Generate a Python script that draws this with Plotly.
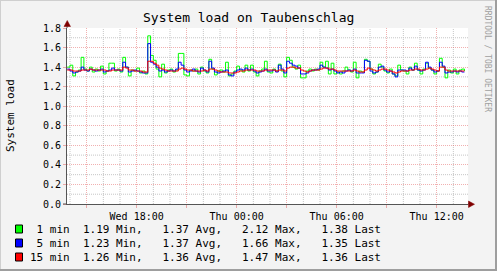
import plotly.graph_objects as go
import pandas as pd

# ---------------- data ----------------
start_time = "2024-01-03 13:50"   # a Wednesday
step = "10min"

load_1min = [
    1.40, 1.42, 1.31, 1.35, 1.37, 1.50, 1.38, 1.36, 1.40, 1.35, 1.38, 1.36, 1.41, 1.33, 1.36, 1.44, 1.44, 1.36, 1.38,
    1.35, 1.50, 1.40, 1.31, 1.37, 1.36, 1.39, 1.34, 1.36, 1.33, 1.72, 1.52, 1.47, 1.38, 1.30, 1.43, 1.34, 1.37,
    1.38, 1.35, 1.37, 1.54, 1.54, 1.32, 1.31, 1.37, 1.36, 1.38, 1.33, 1.40, 1.36, 1.34, 1.48, 1.38, 1.32, 1.36,
    1.37, 1.35, 1.45, 1.31, 1.33, 1.36, 1.41, 1.37, 1.35, 1.42, 1.36, 1.42, 1.35, 1.31, 1.36, 1.38, 1.46, 1.35,
    1.34, 1.38, 1.36, 1.43, 1.36, 1.30, 1.50, 1.47, 1.40, 1.38, 1.42, 1.29, 1.29, 1.36, 1.38, 1.36, 1.38, 1.37,
    1.45, 1.40, 1.46, 1.33, 1.44, 1.33, 1.35, 1.33, 1.36, 1.40, 1.37, 1.35, 1.45, 1.29, 1.36, 1.35, 1.48,
    1.46, 1.38, 1.33, 1.35, 1.43, 1.40, 1.36, 1.34, 1.38, 1.33, 1.31, 1.42, 1.37, 1.36, 1.33, 1.40, 1.37, 1.44,
    1.37, 1.33, 1.38, 1.44, 1.39, 1.37, 1.33, 1.36, 1.49, 1.40, 1.29, 1.37, 1.34, 1.38, 1.33, 1.37, 1.38, 1.36,
]
load_5min = [
    1.38, 1.36, 1.34, 1.35, 1.36, 1.40, 1.37, 1.36, 1.38, 1.37, 1.36, 1.37, 1.38, 1.35, 1.36, 1.37, 1.39, 1.37, 1.37,
    1.36, 1.45, 1.40, 1.35, 1.36, 1.37, 1.36, 1.35, 1.34, 1.34, 1.64, 1.45, 1.43, 1.40, 1.36, 1.37, 1.35, 1.36,
    1.37, 1.36, 1.38, 1.45, 1.42, 1.37, 1.35, 1.36, 1.38, 1.36, 1.35, 1.39, 1.37, 1.35, 1.46, 1.39, 1.35, 1.34,
    1.35, 1.36, 1.37, 1.32, 1.31, 1.35, 1.37, 1.38, 1.37, 1.39, 1.37, 1.38, 1.36, 1.34, 1.35, 1.36, 1.38, 1.36,
    1.36, 1.37, 1.35, 1.42, 1.38, 1.34, 1.46, 1.44, 1.42, 1.41, 1.39, 1.33, 1.33, 1.34, 1.36, 1.37, 1.37, 1.38,
    1.42, 1.40, 1.39, 1.37, 1.38, 1.36, 1.34, 1.35, 1.34, 1.36, 1.37, 1.36, 1.38, 1.34, 1.34, 1.34, 1.47,
    1.46, 1.36, 1.34, 1.35, 1.40, 1.41, 1.37, 1.35, 1.36, 1.33, 1.30, 1.37, 1.37, 1.37, 1.36, 1.39, 1.37, 1.41,
    1.37, 1.36, 1.37, 1.45, 1.40, 1.37, 1.35, 1.36, 1.45, 1.41, 1.34, 1.35, 1.35, 1.36, 1.35, 1.36, 1.35, 1.35,
]
load_15min = [
    1.37, 1.37, 1.36, 1.36, 1.36, 1.37, 1.37, 1.37, 1.38, 1.37, 1.37, 1.37, 1.37, 1.37, 1.36, 1.36, 1.37, 1.37, 1.37,
    1.37, 1.40, 1.39, 1.37, 1.37, 1.36, 1.36, 1.36, 1.35, 1.35, 1.46, 1.46, 1.44, 1.42, 1.39, 1.38, 1.37, 1.36,
    1.36, 1.36, 1.36, 1.38, 1.39, 1.38, 1.37, 1.37, 1.36, 1.36, 1.36, 1.36, 1.37, 1.36, 1.38, 1.38, 1.37, 1.36,
    1.35, 1.35, 1.35, 1.34, 1.34, 1.34, 1.35, 1.36, 1.36, 1.37, 1.37, 1.37, 1.37, 1.36, 1.36, 1.36, 1.37, 1.37,
    1.37, 1.37, 1.36, 1.37, 1.37, 1.36, 1.39, 1.40, 1.40, 1.39, 1.39, 1.37, 1.36, 1.35, 1.36, 1.37, 1.37, 1.37,
    1.38, 1.39, 1.39, 1.38, 1.38, 1.37, 1.36, 1.36, 1.36, 1.36, 1.36, 1.36, 1.37, 1.36, 1.35, 1.35, 1.37,
    1.39, 1.38, 1.37, 1.36, 1.37, 1.38, 1.38, 1.37, 1.36, 1.35, 1.34, 1.35, 1.36, 1.36, 1.36, 1.37, 1.37, 1.38,
    1.38, 1.37, 1.37, 1.38, 1.39, 1.38, 1.37, 1.36, 1.40, 1.40, 1.37, 1.36, 1.36, 1.36, 1.36, 1.36, 1.36, 1.36,
]

series_names = ["1 min", "5 min", "15 min"]
series_colors = ["#00FF00", "#0000FF", "#FF0000"]
stat_min = [1.19, 1.23, 1.26]
stat_avg = [1.37, 1.37, 1.36]
stat_max = [2.12, 1.66, 1.47]
stat_last = [1.38, 1.35, 1.36]

tick_vals = ["2024-01-03 15:00", "2024-01-03 18:00", "2024-01-03 21:00", "2024-01-04 00:00",
             "2024-01-04 03:00", "2024-01-04 06:00", "2024-01-04 09:00", "2024-01-04 12:00"]
tick_text = ["", "Wed 18:00", "", "Thu 00:00", "", "Thu 06:00", "", "Thu 12:00"]

x_range = ["2024-01-03 13:49:12", "2024-01-04 13:52:48"]
y_range = [0, 1.8]
y_major_step = 0.2
y_minor_step = 0.1

title = "System load on Taubenschlag"
y_title = "System load"
watermark = "RRDTOOL / TOBI OETIKER"

# ---------------- layout geometry ----------------
W, H = 497, 271
L, R, T, B = 67, 29, 28, 67
PW, PH = W - L - R, H - T - B


def px(x):
    return (x - L) / PW


def py(y):
    return (H - B - y) / PH


MONO = "DejaVu Sans Mono"
GRID = "#C6C6C6"
MGRID = "rgba(225,80,80,0.45)"
AXIS = "#555555"
ARROW = "#800000"
BACK = "#F3F3F3"
DOT = "1px,1px"

times = pd.date_range(start_time, periods=len(load_1min), freq=step)

fig = go.Figure()
for vals, name, col in zip([load_1min, load_5min, load_15min], series_names, series_colors):
    fig.add_trace(go.Scatter(x=times, y=vals, mode="lines", name=name,
                             line=dict(color=col, width=1, shape="hv"), showlegend=False))

fig.update_layout(
    width=W, height=H, autosize=False,
    margin=dict(l=L, r=R, t=T, b=B, pad=0),
    paper_bgcolor=BACK, plot_bgcolor="#FFFFFF",
    font=dict(family=MONO, size=10, color="#000000"),
    showlegend=False,
    xaxis=dict(type="date", range=x_range, fixedrange=True,
               tickmode="array", tickvals=tick_vals, ticktext=tick_text,
               showgrid=True, gridcolor=MGRID, gridwidth=1, griddash=DOT,
               ticks="outside", ticklen=3, tickcolor=MGRID, tickwidth=1,
               showline=True, linecolor=AXIS, linewidth=1, zeroline=False,
               tickfont=dict(family=MONO, size=10, color="#000000")),
    yaxis=dict(range=y_range, fixedrange=True, tick0=0, dtick=y_major_step, tickformat=".1f",
               showgrid=True, gridcolor=MGRID, gridwidth=1, griddash=DOT,
               ticks="outside", ticklen=3, tickcolor=MGRID, tickwidth=1,
               showline=True, linecolor=AXIS, linewidth=1, zeroline=False,
               tickfont=dict(family=MONO, size=10, color="#000000")),
)

shapes = []
# minor (gray) grid: hourly verticals that are not on a major 3-hour line, and odd tenths
minor_hours = [t for t in pd.date_range("2024-01-03 14:00", "2024-01-04 13:00", freq="1h") if t.hour % 3 != 0]
for t in minor_hours:
    shapes.append(dict(type="line", xref="x", yref="paper", x0=t, x1=t, y0=0, y1=1, layer="between",
                       line=dict(color=GRID, width=1, dash=DOT)))
n_minor = int(round(y_range[1] / y_minor_step))
for k in range(1, n_minor, 2):
    yv = k * y_minor_step
    shapes.append(dict(type="line", xref="paper", yref="y", x0=0, x1=1, y0=yv, y1=yv, layer="between",
                       line=dict(color=GRID, width=1, dash=DOT)))

# canvas border (shade)
shapes.append(dict(type="line", xref="paper", yref="paper", x0=px(0), x1=px(W), y0=py(0.5), y1=py(0.5),
                   line=dict(color="#CFCFCF", width=1)))
shapes.append(dict(type="line", xref="paper", yref="paper", x0=px(0.5), x1=px(0.5), y0=py(0), y1=py(H),
                   line=dict(color="#CFCFCF", width=1)))
shapes.append(dict(type="line", xref="paper", yref="paper", x0=px(0), x1=px(W), y0=py(H - 1), y1=py(H - 1),
                   line=dict(color="#9E9E9E", width=2)))
shapes.append(dict(type="line", xref="paper", yref="paper", x0=px(W - 1), x1=px(W - 1), y0=py(0), y1=py(H),
                   line=dict(color="#9E9E9E", width=2)))
# axis extensions
shapes.append(dict(type="line", xref="paper", yref="paper", x0=px(L), x1=px(L), y0=py(T), y1=py(24),
                   line=dict(color=AXIS, width=1)))
shapes.append(dict(type="line", xref="paper", yref="paper", x0=px(63), x1=px(L), y0=0, y1=0,
                   line=dict(color=AXIS, width=1)))
shapes.append(dict(type="line", xref="paper", yref="paper", x0=1, x1=px(471), y0=0, y1=0,
                   line=dict(color=AXIS, width=1)))
# arrow heads
shapes.append(dict(type="path", xref="paper", yref="paper",
                   path=f"M {px(L - 3)},{py(26.5)} L {px(L + 3.5)},{py(26.5)} L {px(L + 0.25)},{py(20.5)} Z",
                   fillcolor=ARROW, line=dict(color=ARROW, width=0.5)))
shapes.append(dict(type="path", xref="paper", yref="paper",
                   path=f"M {px(468.5)},{py(H - B - 3)} L {px(468.5)},{py(H - B + 3.5)} L {px(474.5)},{py(H - B + 0.25)} Z",
                   fillcolor=ARROW, line=dict(color=ARROW, width=0.5)))
# legend boxes
for k, col in enumerate(series_colors):
    yc = 229 + 14 * k
    shapes.append(dict(type="rect", xref="paper", yref="paper",
                       x0=px(15.5), x1=px(22.5), y0=py(yc - 4), y1=py(yc + 4),
                       fillcolor=col, line=dict(color="#000000", width=1)))
fig.update_layout(shapes=shapes)

NB = "\u00a0"
ann = []
ann.append(dict(text=title, x=px(248), y=py(18), xref="paper", yref="paper", showarrow=False,
                xanchor="center", yanchor="middle", font=dict(family=MONO, size=13, color="#000000")))
ann.append(dict(text=y_title, x=px(10), y=py(116), xref="paper", yref="paper", showarrow=False,
                textangle=-90, xanchor="center", yanchor="middle",
                font=dict(family=MONO, size=11, color="#000000")))
ann.append(dict(text=watermark, x=px(488), y=py(59), xref="paper", yref="paper", showarrow=False,
                textangle=90, xanchor="center", yanchor="middle",
                font=dict(family=MONO, size=8, color="#A0A0A0")))
for k in range(3):
    line = (f"{series_names[k]:>6}  {stat_min[k]:.2f} Min,   {stat_avg[k]:.2f} Avg,   "
            f"{stat_max[k]:.2f} Max,   {stat_last[k]:.2f} Last")
    ann.append(dict(text=line.replace(" ", NB), x=px(28), y=py(229 + 14 * k), xref="paper", yref="paper",
                    showarrow=False, xanchor="left", yanchor="middle",
                    font=dict(family=MONO, size=11, color="#000000")))
fig.update_layout(annotations=ann)

fig.write_html("out.html")
